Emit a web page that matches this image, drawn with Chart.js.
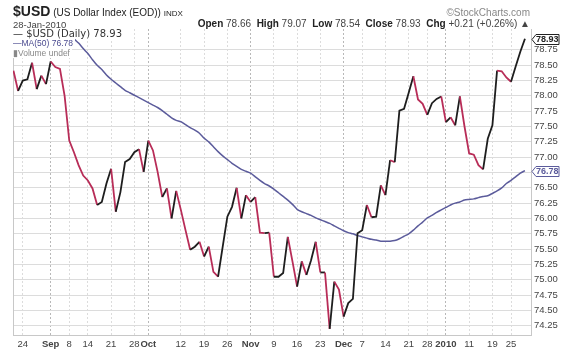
<!DOCTYPE html>
<html>
<head>
<meta charset="utf-8">
<script src="https://cdn.jsdelivr.net/npm/chart.js@4/dist/chart.umd.min.js"></script>
<style>
  html, body { margin: 0; padding: 0; background: #fff; }
  #wrap { position: relative; width: 580px; height: 356px; overflow: hidden; font-family: Arial, "Liberation Sans", sans-serif; }
  #chart { position: absolute; left: 0; top: 0; }
  .t { position: absolute; white-space: nowrap; }
  #title { left: 13px; top: 3px; font-size: 10px; line-height: 16px; color: #222; }
  #title b { font-size: 14px; }
  #title small { font-size: 8px; }
  #date { left: 13px; top: 19px; font-size: 9.5px; line-height: 12px; color: #444; }
  #quote { right: 50px; top: 18px; font-size: 10px; line-height: 12px; color: #444; }
  #quote b { color: #222; }
  #copy { right: 50px; top: 7px; font-size: 10px; line-height: 12px; color: #888; }
  #legend { left: 13px; top: 29px; }
  #legend div { background: #fff; width: max-content; }
  #lg1 { font-family: "DejaVu Sans", sans-serif; font-size: 10px; line-height: 10px; color: #333; padding-right: 2px; }
  #lg2 { font-size: 8.5px; line-height: 9px; color: #4b4b90; padding-right: 2px; }
  #lg3 { font-size: 8.5px; line-height: 10px; color: #888; padding-right: 2px; }
</style>
</head>
<body>
<div id="wrap">
  <canvas id="chart" width="580" height="356"></canvas>
  <div class="t" id="title"><b>$USD</b> (US Dollar Index (EOD)) <small>INDX</small></div>
  <div class="t" id="date">28-Jan-2010</div>
  <div class="t" id="copy">&copy;StockCharts.com</div>
  <div class="t" id="quote"><b>Open</b> 78.66 &nbsp;<b>High</b> 79.07 &nbsp;<b>Low</b> 78.54 &nbsp;<b>Close</b> 78.93 &nbsp;<b>Chg</b> +0.21 (+0.26%) &#9650;</div>
  <div class="t" id="legend">
    <div id="lg1">&#8212; $USD (Daily) 78.93</div>
    <div id="lg2">&#8212;MA(50) 76.78</div>
    <div id="lg3">&#9646;Volume undef</div>
  </div>
</div>
<script>
// trading days, 20 Aug 2009 .. 28 Jan 2010
const dates = [
  '08-20','08-21','08-24','08-25','08-26','08-27','08-28','08-31',
  '09-01','09-02','09-03','09-04','09-08','09-09','09-10','09-11','09-14','09-15','09-16','09-17','09-18',
  '09-21','09-22','09-23','09-24','09-25','09-28','09-29','09-30',
  '10-01','10-02','10-05','10-06','10-07','10-08','10-09','10-12','10-13','10-14','10-15','10-16',
  '10-19','10-20','10-21','10-22','10-23','10-26','10-27','10-28','10-29','10-30',
  '11-02','11-03','11-04','11-05','11-06','11-09','11-10','11-11','11-12','11-13',
  '11-16','11-17','11-18','11-19','11-20','11-23','11-24','11-25','11-27','11-30',
  '12-01','12-02','12-03','12-04','12-07','12-08','12-09','12-10','12-11',
  '12-14','12-15','12-16','12-17','12-18','12-21','12-22','12-23','12-24','12-28','12-29','12-30','12-31',
  '01-04','01-05','01-06','01-07','01-08','01-11','01-12','01-13','01-14','01-15',
  '01-19','01-20','01-21','01-22','01-25','01-26','01-27','01-28'
];

const usd = [
  78.41, 78.08, 78.25, 78.27, 78.54, 78.11, 78.33, 78.19,
  78.56, 78.47, 78.44, 78.00, 77.27, 77.08, 76.87, 76.70, 76.62, 76.49, 76.22, 76.27, 76.57,
  76.81, 76.11, 76.43, 76.92, 76.97, 77.08, 77.13, 76.76,
  77.27, 77.11, 76.76, 76.35, 76.49, 76.00, 76.45, 76.14, 75.81, 75.49, 75.54, 75.62,
  75.38, 75.54, 75.13, 75.05, 75.54, 76.03, 76.19, 76.50, 76.00, 76.38,
  76.27, 76.35, 75.77, 75.76, 75.77, 75.05, 75.05, 75.11, 75.70, 75.30,
  74.89, 75.30, 75.08, 75.32, 75.62, 75.12, 75.12, 74.20, 74.97, 74.84,
  74.40, 74.62, 74.69, 75.76, 75.81, 76.22, 76.02, 76.03, 76.54,
  76.38, 76.95, 76.92, 77.76, 77.79, 78.05, 78.32, 77.94, 77.87, 77.69, 77.88, 77.95, 77.99,
  77.57, 77.65, 77.52, 77.99, 77.50, 77.06, 77.04, 76.87, 76.80, 77.30,
  77.52, 78.41, 78.40, 78.30, 78.23, 78.48, 78.72, 78.93
];

// 50-day moving average (null where it sits above the chart)
const ma50 = [
  null, null, null, null, null, null, null, null,
  null, null, null, 79.14, 79.04, 78.93, 78.86, 78.77, 78.69, 78.59, 78.50, 78.43, 78.34,
  78.27, 78.21, 78.15, 78.09, 78.05, 78.01, 77.97, 77.93,
  77.89, 77.85, 77.81, 77.76, 77.70, 77.64, 77.60, 77.58, 77.53, 77.48, 77.44, 77.39,
  77.31, 77.25, 77.17, 77.09, 77.02, 76.96, 76.90, 76.85, 76.80, 76.77,
  76.74, 76.68, 76.62, 76.57, 76.53, 76.48, 76.42, 76.36, 76.30, 76.23,
  76.15, 76.11, 76.08, 76.05, 76.01, 75.98, 75.95, 75.92, 75.88, 75.84,
  75.80, 75.77, 75.75, 75.72, 75.70, 75.68, 75.66, 75.65, 75.63,
  75.63, 75.63, 75.64, 75.67, 75.71, 75.75, 75.81, 75.88, 75.94, 76.01, 76.05, 76.10, 76.14,
  76.18, 76.22, 76.25, 76.27, 76.30, 76.31, 76.32, 76.34, 76.36, 76.37,
  76.41, 76.45, 76.50, 76.57, 76.62, 76.68, 76.74, 76.78
];

const tickDates = ['08-24','09-01','09-08','09-14','09-21','09-28','10-01','10-12','10-19','10-26',
  '11-02','11-09','11-16','11-23','12-01','12-07','12-14','12-21','12-28','01-04','01-11','01-19','01-25'];
const tickText = ['24','Sep','8','14','21','28','Oct','12','19','26',
  'Nov','9','16','23','Dec','7','14','21','28','2010','11','19','25'];
const monthTicks = ['Sep','Oct','Nov','Dec','2010'];

const yTicks = [74.25, 74.5, 74.75, 75, 75.25, 75.5, 75.75, 76, 76.25, 76.5, 76.75,
  77, 77.25, 77.5, 77.75, 78, 78.25, 78.5, 78.75];

const UP = '#1e1e1e';
const DOWN = '#b82d58';
const MA_COLOR = '#5b5b9b';

const tickIdx = tickDates.map(d => dates.indexOf(d));
const labelAt = {};
tickIdx.forEach((idx, k) => { labelAt[idx] = tickText[k]; });
const isMonth = v => monthTicks.includes(labelAt[v]);

const pricePts = usd.map((v, i) => ({ x: i, y: v }));
const maPts = ma50.map((v, i) => ({ x: i, y: v }));

// boxed last values on the price axis
const valueBoxes = {
  id: 'valueBoxes',
  afterDraw(chart) {
    const ys = chart.scales.y;
    const ctx = chart.ctx;
    const items = [
      { v: usd[usd.length - 1], color: '#222' },
      { v: ma50[ma50.length - 1], color: MA_COLOR }
    ];
    const x0 = chart.chartArea.right + 1;
    items.forEach(it => {
      const y = Math.round(ys.getPixelForValue(it.v)) + 0.5;
      ctx.save();
      ctx.beginPath();
      ctx.moveTo(x0, y);
      ctx.lineTo(x0 + 4, y - 5);
      ctx.lineTo(x0 + 27, y - 5);
      ctx.lineTo(x0 + 27, y + 5);
      ctx.lineTo(x0 + 4, y + 5);
      ctx.closePath();
      ctx.fillStyle = '#fff';
      ctx.fill();
      ctx.strokeStyle = it.color;
      ctx.lineWidth = 1;
      ctx.stroke();
      ctx.fillStyle = it.color;
      ctx.font = 'bold 9px Arial, "Liberation Sans", sans-serif';
      ctx.textBaseline = 'middle';
      ctx.fillText(it.v.toFixed(2), x0 + 4, y + 0.5);
      ctx.restore();
    });
  }
};

new Chart(document.getElementById('chart'), {
  type: 'line',
  data: {
    datasets: [
      {
        label: '$USD (Daily)',
        data: pricePts,
        borderWidth: 1.8,
        borderColor: UP,
        pointRadius: 0,
        tension: 0,
        segment: {
          borderColor: c => c.p1.parsed.y < c.p0.parsed.y ? DOWN : UP
        },
        order: 1
      },
      {
        label: 'MA(50)',
        data: maPts,
        borderColor: MA_COLOR,
        borderWidth: 1.5,
        pointRadius: 0,
        tension: 0.2,
        order: 2
      }
    ]
  },
  options: {
    responsive: false,
    animation: false,
    devicePixelRatio: 1,
    layout: { padding: { left: 13, top: 29, right: 0, bottom: 0 } },
    plugins: { legend: { display: false }, tooltip: { enabled: false } },
    scales: {
      x: {
        type: 'linear',
        min: -0.1,
        max: 111.3,
        afterBuildTicks: s => { s.ticks = tickIdx.map(v => ({ value: v })); },
        afterFit: s => { s.height = 21; },
        grid: {
          color: c => (c.tick && isMonth(c.tick.value)) ? '#b8b8b8' : '#dcdcdc',
          drawTicks: false
        },
        border: { color: '#c8c8c8', dash: [2, 2] },
        ticks: {
          autoSkip: false,
          maxRotation: 0,
          padding: 4,
          color: '#444',
          font: c => ({ family: 'Arial, "Liberation Sans", sans-serif', size: 9.5,
                        weight: (c.tick && isMonth(c.tick.value)) ? 'bold' : 'normal' }),
          callback: v => labelAt[v] || ''
        }
      },
      y: {
        position: 'right',
        min: 74.1,
        max: 79.09,
        afterBuildTicks: s => { s.ticks = yTicks.map(v => ({ value: v })); },
        afterFit: s => { s.width = 49; },
        grid: { color: '#dcdcdc', drawTicks: false },
        border: { color: '#c8c8c8' },
        ticks: {
          crossAlign: 'near',
          padding: 3,
          color: '#444',
          font: { family: 'Arial, "Liberation Sans", sans-serif', size: 9.5 },
          callback: v => v.toFixed(2)
        }
      },
      yl: {
        position: 'left',
        min: 74.1,
        max: 79.09,
        afterFit: s => { s.width = 0; },
        grid: { display: false, drawTicks: false },
        border: { color: '#c8c8c8' },
        ticks: { display: false }
      }
    }
  },
  plugins: [valueBoxes]
});
</script>
</body>
</html>
